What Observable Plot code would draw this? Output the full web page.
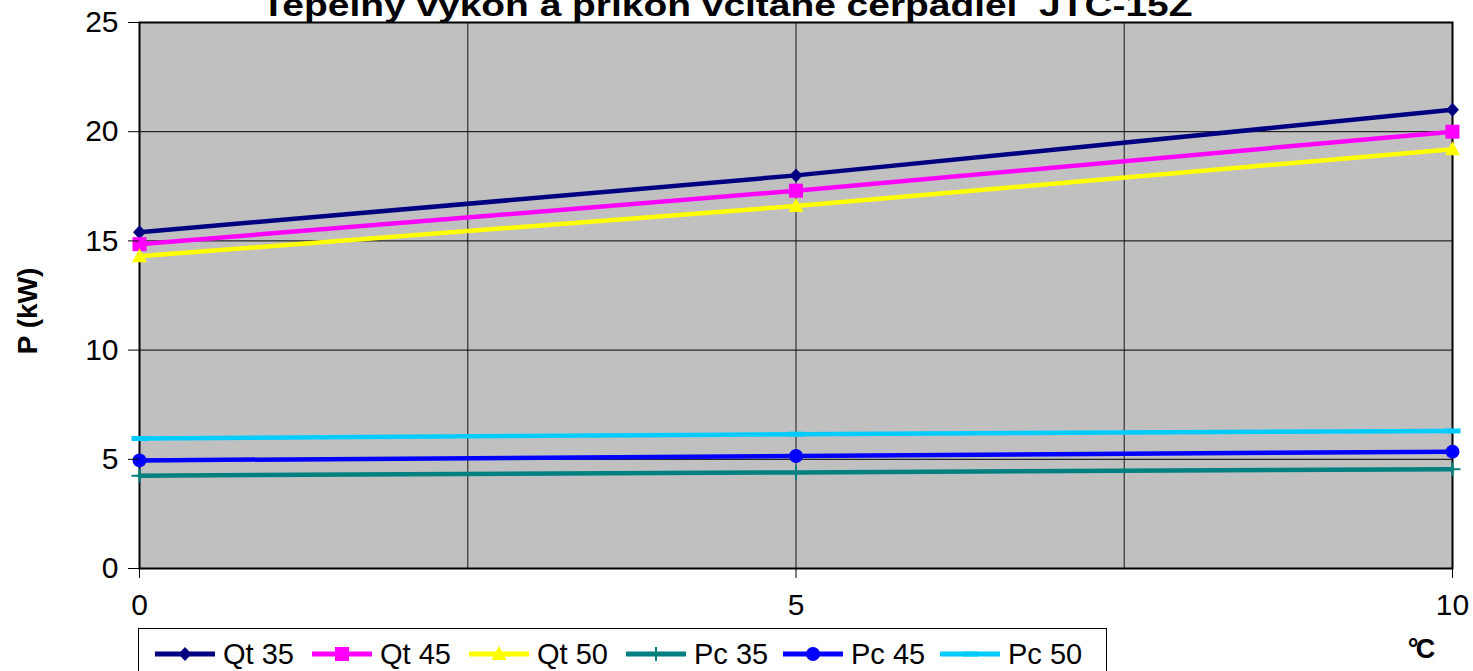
<!DOCTYPE html>
<html>
<head>
<meta charset="utf-8">
<script src="https://cdn.jsdelivr.net/npm/d3@7"></script>
<script src="https://cdn.jsdelivr.net/npm/@observablehq/plot@0.6"></script>
<style>
  body { margin: 0; overflow: hidden; background: #fff; font-family: "Liberation Sans", Arial, sans-serif; }
  #wrap { position: relative; width: 1473px; height: 671px; overflow: hidden; }
  #legend { position: absolute; left: 138px; top: 628px; width: 969px; height: 60px; border: 1px solid #000; background: #fff; box-sizing: border-box; }
  .item { position: absolute; top: 8px; height: 34px; display: flex; align-items: center; font-size: 29px; color: #000; }
  .item svg { display: block; margin-right: 8px; }
</style>
</head>
<body>
<div id="wrap"></div>
<script>
const titleText = "Tepelný výkon a príkon včítane čerpadiel  JTC-15Z";
const yLabel = "P (kW)";
const xLabel = "°C";
const temps = [0, 5, 10];
const xTicks = [0, 5, 10];
const yTicks = [0, 5, 10, 15, 20, 25];
const vGrid = [2.5, 5, 7.5];
const hGrid = [5, 10, 15, 20];
const seriesNames = ["Qt 35", "Qt 45", "Qt 50", "Pc 35", "Pc 45", "Pc 50"];
const qt35 = [15.4, 18.0, 21.0];
const qt45 = [14.85, 17.3, 20.0];
const qt50 = [14.3, 16.6, 19.2];
const pc35 = [4.25, 4.4, 4.55];
const pc45 = [4.95, 5.15, 5.35];
const pc50 = [5.95, 6.15, 6.3];
const seriesValues = [qt35, qt45, qt50, pc35, pc45, pc50];
const colors = ["#000080", "#FF00FF", "#FFFF00", "#008080", "#0000FF", "#00CCFF"];

// custom marker shapes
const diamond = {draw(c){ c.moveTo(0,-7); c.lineTo(6.5,0); c.lineTo(0,7); c.lineTo(-6.5,0); c.closePath(); }};
const square = {draw(c){ c.moveTo(-7,-7); c.lineTo(7,-7); c.lineTo(7,7); c.lineTo(-7,7); c.closePath(); }};
const triangle = {draw(c){ c.moveTo(0,-8); c.lineTo(7.5,6); c.lineTo(-7.5,6); c.closePath(); }};
const plus = {draw(c){ c.moveTo(-8,0); c.lineTo(8,0); c.moveTo(0,-7); c.lineTo(0,7); }};
const circle = {draw(c){ c.moveTo(7,0); c.arc(0,0,7,0,2*Math.PI); c.closePath(); }};
const dash = {draw(c){ c.moveTo(-8,-2.5); c.lineTo(8,-2.5); c.lineTo(8,2.5); c.lineTo(-8,2.5); c.closePath(); }};
const symbols = [diamond, square, triangle, plus, circle, dash];
const strokeSymbol = [false, false, false, true, false, false];

const rows = [];
seriesNames.forEach((s, i) => temps.forEach((t, j) => rows.push({series: s, t, v: seriesValues[i][j]})));

const marks = [
  Plot.frame({fill: "#C0C0C0", stroke: null}),
  Plot.ruleX(vGrid, {stroke: "#333", strokeWidth: 1.2}),
  Plot.ruleY(hGrid, {stroke: "#000", strokeWidth: 1}),
  Plot.frame({stroke: "#000", strokeWidth: 2}),
];
seriesNames.forEach((s, i) => {
  marks.push(Plot.line(rows.filter(d => d.series === s), {x: "t", y: "v", stroke: colors[i], strokeWidth: 4.5}));
});
seriesNames.forEach((s, i) => {
  const data = rows.filter(d => d.series === s);
  if (strokeSymbol[i]) {
    marks.push(Plot.dot(data, {x: "t", y: "v", symbol: symbols[i], r: 7, fill: "none", stroke: colors[i], strokeWidth: 2}));
  } else {
    marks.push(Plot.dot(data, {x: "t", y: "v", symbol: symbols[i], r: 7, fill: colors[i], stroke: null}));
  }
});
marks.push(Plot.axisY({ticks: yTicks, tickSize: 11, tickPadding: 10, label: null, stroke: "#000"}));
marks.push(Plot.axisX({ticks: xTicks, tickSize: 10, tickPadding: 15, label: null, stroke: "#000"}));

const chart = Plot.plot({
  width: 1473,
  height: 671,
  marginLeft: 139,
  marginRight: 21,
  marginTop: 22,
  marginBottom: 103,
  x: {domain: [0, 10]},
  y: {domain: [0, 25]},
  style: {fontFamily: "'Liberation Sans', Arial, sans-serif", fontSize: "30px", color: "#000", background: "transparent", overflow: "visible"},
  marks
});
document.getElementById("wrap").appendChild(chart);

const svg = d3.select(chart);
svg.append("text")
  .attr("x", 727).attr("y", 16)
  .attr("text-anchor", "middle")
  .attr("font-weight", "bold").attr("font-size", 32)
  .attr("textLength", 931).attr("lengthAdjust", "spacingAndGlyphs")
  .attr("fill", "#000")
  .text(titleText);
svg.append("text")
  .attr("transform", "translate(37,311) rotate(-90)")
  .attr("text-anchor", "middle")
  .attr("font-weight", "bold").attr("font-size", 28)
  .attr("fill", "#000")
  .text(yLabel);
svg.append("text")
  .attr("x", 1420).attr("y", 658)
  .attr("text-anchor", "middle")
  .attr("font-weight", "bold").attr("font-size", 27)
  .attr("letter-spacing", -3)
  .attr("fill", "#000")
  .text(xLabel);

// legend
const legend = document.createElement("div");
legend.id = "legend";
document.getElementById("wrap").appendChild(legend);
seriesNames.forEach((s, i) => {
  const item = document.createElement("div");
  item.className = "item";
  item.style.left = (16 + i * 157) + "px";
  const p = d3.path();
  symbols[i].draw(p);
  const sym = strokeSymbol[i]
    ? `<path d="${p}" transform="translate(30,17)" fill="none" stroke="${colors[i]}" stroke-width="2"/>`
    : `<path d="${p}" transform="translate(30,17)" fill="${colors[i]}"/>`;
  item.innerHTML = `<svg width="60" height="34"><line x1="0" x2="60" y1="17" y2="17" stroke="${colors[i]}" stroke-width="5"/>${sym}</svg><span>${s}</span>`;
  legend.appendChild(item);
});
</script>
</body>
</html>
